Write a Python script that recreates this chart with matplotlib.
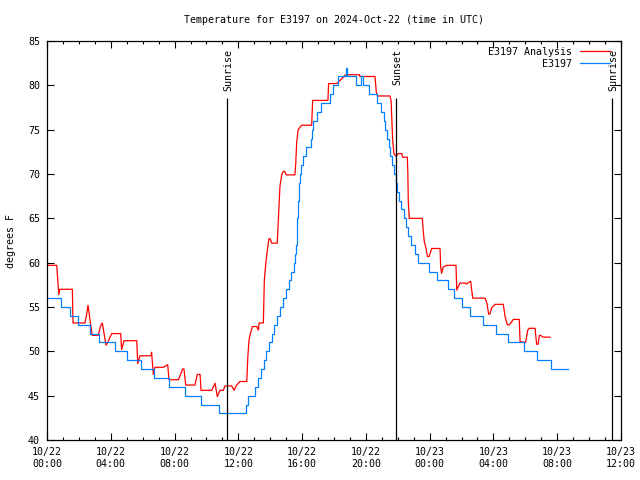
import matplotlib
matplotlib.use("Agg")
import matplotlib.pyplot as plt
from matplotlib.ticker import MultipleLocator

# hours since 2024-10-22 00:00 UTC
obs_hours = [0.0, 0.9, 1.45, 1.95, 2.7, 3.25, 4.25, 5.0, 5.87, 6.7, 7.63, 8.63, 9.63, 10.77,
             12.48, 12.6, 13.05, 13.25, 13.45, 13.6, 13.72, 13.9, 14.09, 14.25, 14.42, 14.6,
             14.78, 14.98, 15.15, 15.33, 15.52, 15.57, 15.62, 15.65, 15.68, 15.71, 15.74,
             15.76, 15.79, 15.83, 15.87, 15.93, 16.03, 16.25, 16.55, 16.62, 16.7, 16.95,
             17.2, 17.75, 17.96, 18.27, 18.73, 18.8, 19.35, 19.69, 19.8, 20.2, 20.68, 20.95,
             21.12, 21.22, 21.32, 21.42, 21.52, 21.63, 21.75, 21.87, 21.96, 22.08, 22.22,
             22.37, 22.52, 22.65, 22.85, 23.05, 23.27, 23.97, 24.47, 25.12, 25.5, 26.04,
             26.56, 27.32, 28.15, 28.93, 29.9, 30.76, 31.64, 32.7]
obs_temp = [56, 55, 54, 53, 52, 51, 50, 49, 48, 47, 46, 45, 44, 43,
            44, 45, 46, 47, 48, 49, 50, 51, 52, 53, 54, 55,
            56, 57, 58, 59, 60, 61, 62, 63, 64, 65, 66,
            67, 68, 69, 70, 71, 72, 73, 74, 75, 76, 77,
            78, 79, 80, 81, 82, 81, 80, 81, 80, 79, 78, 77,
            76, 75, 74, 73, 72, 71, 70, 69, 68, 67, 66,
            65, 64, 63, 62, 61, 60, 59, 58, 57, 56, 55,
            54, 53, 52, 51, 50, 49, 48, 48]

ana_hours = [0.0, 0.61, 0.68, 0.74, 0.8, 1.59, 1.63, 2.38, 2.48, 2.57, 2.62, 2.72, 2.84, 3.22,
             3.35, 3.47, 3.58, 3.7, 3.8, 4.06, 4.62, 4.68, 4.83, 5.63, 5.69, 5.83, 6.52, 6.56,
             6.67, 6.77, 7.3, 7.57, 7.65, 8.24, 8.4, 8.5, 8.59, 8.7, 9.28, 9.43, 9.6, 9.66,
             10.33, 10.54, 10.68, 10.85, 11.06, 11.16, 11.58, 11.73, 11.9, 12.1, 12.53, 12.59,
             12.67, 12.73, 12.88, 13.15, 13.26, 13.3, 13.57, 13.63, 13.72, 13.82, 13.92, 14.0,
             14.09, 14.44, 14.51, 14.61, 14.72, 14.82, 14.9, 15.0, 15.55, 15.6, 15.66, 15.75,
             15.97, 16.6, 16.66, 17.62, 17.66, 18.17, 18.35, 18.73, 19.59, 19.62, 20.57, 20.65,
             20.72, 21.51, 21.58, 21.68, 21.76, 21.89, 22.03, 22.25, 22.3, 22.6, 22.63, 22.66,
             22.72, 23.54, 23.6, 23.66, 23.75, 23.86, 23.97, 24.13, 24.65, 24.69, 24.75, 24.85,
             25.07, 25.65, 25.7, 25.84, 25.9, 26.22, 26.3, 26.57, 26.7, 27.47, 27.57, 27.7,
             27.78, 27.89, 28.1, 28.62, 28.73, 28.87, 29.0, 29.25, 29.62, 29.67, 30.02, 30.15,
             30.25, 30.61, 30.71, 30.8, 30.88, 30.95, 31.13, 31.55]
ana_temp = [59.7, 59.7, 58.0, 56.4, 57.0, 57.0, 53.2, 53.2, 54.1, 55.2, 54.6, 53.2, 51.8, 51.8,
            52.8, 53.2, 52.0, 50.7, 51.0, 52.0, 52.0, 50.2, 51.2, 51.2, 48.6, 49.5, 49.5, 49.9,
            47.4, 48.2, 48.2, 48.5, 46.8, 46.8, 47.5, 48.0, 48.0, 46.2, 46.2, 47.4, 47.4, 45.6,
            45.6, 46.4, 44.9, 45.6, 45.6, 46.1, 46.1, 45.6, 46.2, 46.6, 46.6, 49.2,
            51.3, 51.8, 52.8, 52.8, 52.4, 53.2, 53.2, 58.0, 59.9, 61.4, 62.7, 62.7,
            62.2, 62.2, 64.8, 68.6, 69.9, 70.3, 70.3, 69.9, 69.9, 71.2, 73.6, 75.0,
            75.5, 75.5, 78.3, 78.3, 80.2, 80.2, 80.5, 81.2, 81.2, 81.0, 81.0, 79.3,
            78.8, 78.8, 78.3, 73.8, 72.3, 72.0, 72.3, 72.3, 71.9, 71.9, 70.1, 66.9,
            65.0, 65.0, 63.5, 62.4, 61.8, 60.7, 60.7, 61.6, 61.6, 59.5, 58.8, 59.5,
            59.7, 59.7, 56.9, 57.5, 57.7, 57.7, 57.6, 57.9, 56.0, 56.0, 55.6, 54.2,
            54.2, 54.9, 55.3, 55.3, 53.9, 53.0, 53.0, 53.6, 53.6, 51.1, 51.0, 52.4,
            52.6, 52.6, 50.8, 50.8, 51.8, 51.8, 51.6, 51.6]

sun_hours = [11.29, 21.87, 35.42]
sun_labels = ["Sunrise", "Sunset", "Sunrise"]

tick_hours = [0, 4, 8, 12, 16, 20, 24, 28, 32, 36]
tick_labels = ["10/22\n00:00", "10/22\n04:00", "10/22\n08:00", "10/22\n12:00", "10/22\n16:00",
               "10/22\n20:00", "10/23\n00:00", "10/23\n04:00", "10/23\n08:00", "10/23\n12:00"]

plt.rcParams["font.family"] = ["DejaVu Sans Mono"]
plt.rcParams["font.size"] = 7.2

fig = plt.figure(figsize=(6.4, 4.8), dpi=100)
ax = fig.add_axes([47 / 640, 40 / 480, 574 / 640, 399 / 480])

ax.plot(ana_hours, ana_temp, color="#ff0000", lw=0.9, label="E3197 Analysis")
ax.step(obs_hours, obs_temp, where="post", color="#0080ff", lw=0.9, label="E3197")

for h, lab in zip(sun_hours, sun_labels):
    ax.vlines(h, 40, 78.6, color="black", lw=0.9)
    ax.text(h + 0.08, 84.1, lab, rotation=90, ha="center", va="top")

ax.set_xlim(0, 36)
ax.set_ylim(40, 85)
ax.set_xticks(tick_hours)
ax.set_xticklabels(tick_labels, linespacing=1.25)
ax.xaxis.set_minor_locator(MultipleLocator(1))
ax.yaxis.set_major_locator(MultipleLocator(5))
ax.tick_params(which="both", direction="in", top=True, right=True, width=0.8)
ax.tick_params(which="major", length=5, pad=5)
ax.tick_params(which="minor", length=2.5)
for s in ax.spines.values():
    s.set_linewidth(0.9)

ax.set_ylabel("degrees F", labelpad=9)
fig.text(334 / 640, 1 - 20 / 480, "Temperature for E3197 on 2024-Oct-22 (time in UTC)",
         ha="center", va="center")
ax.legend(loc="upper right", markerfirst=False, frameon=False, handlelength=3.0,
          borderaxespad=0.0, labelspacing=0.2, handletextpad=0.8, borderpad=0.0,
          bbox_to_anchor=(0.981, 0.985))

fig.savefig("out.png", dpi=100)
